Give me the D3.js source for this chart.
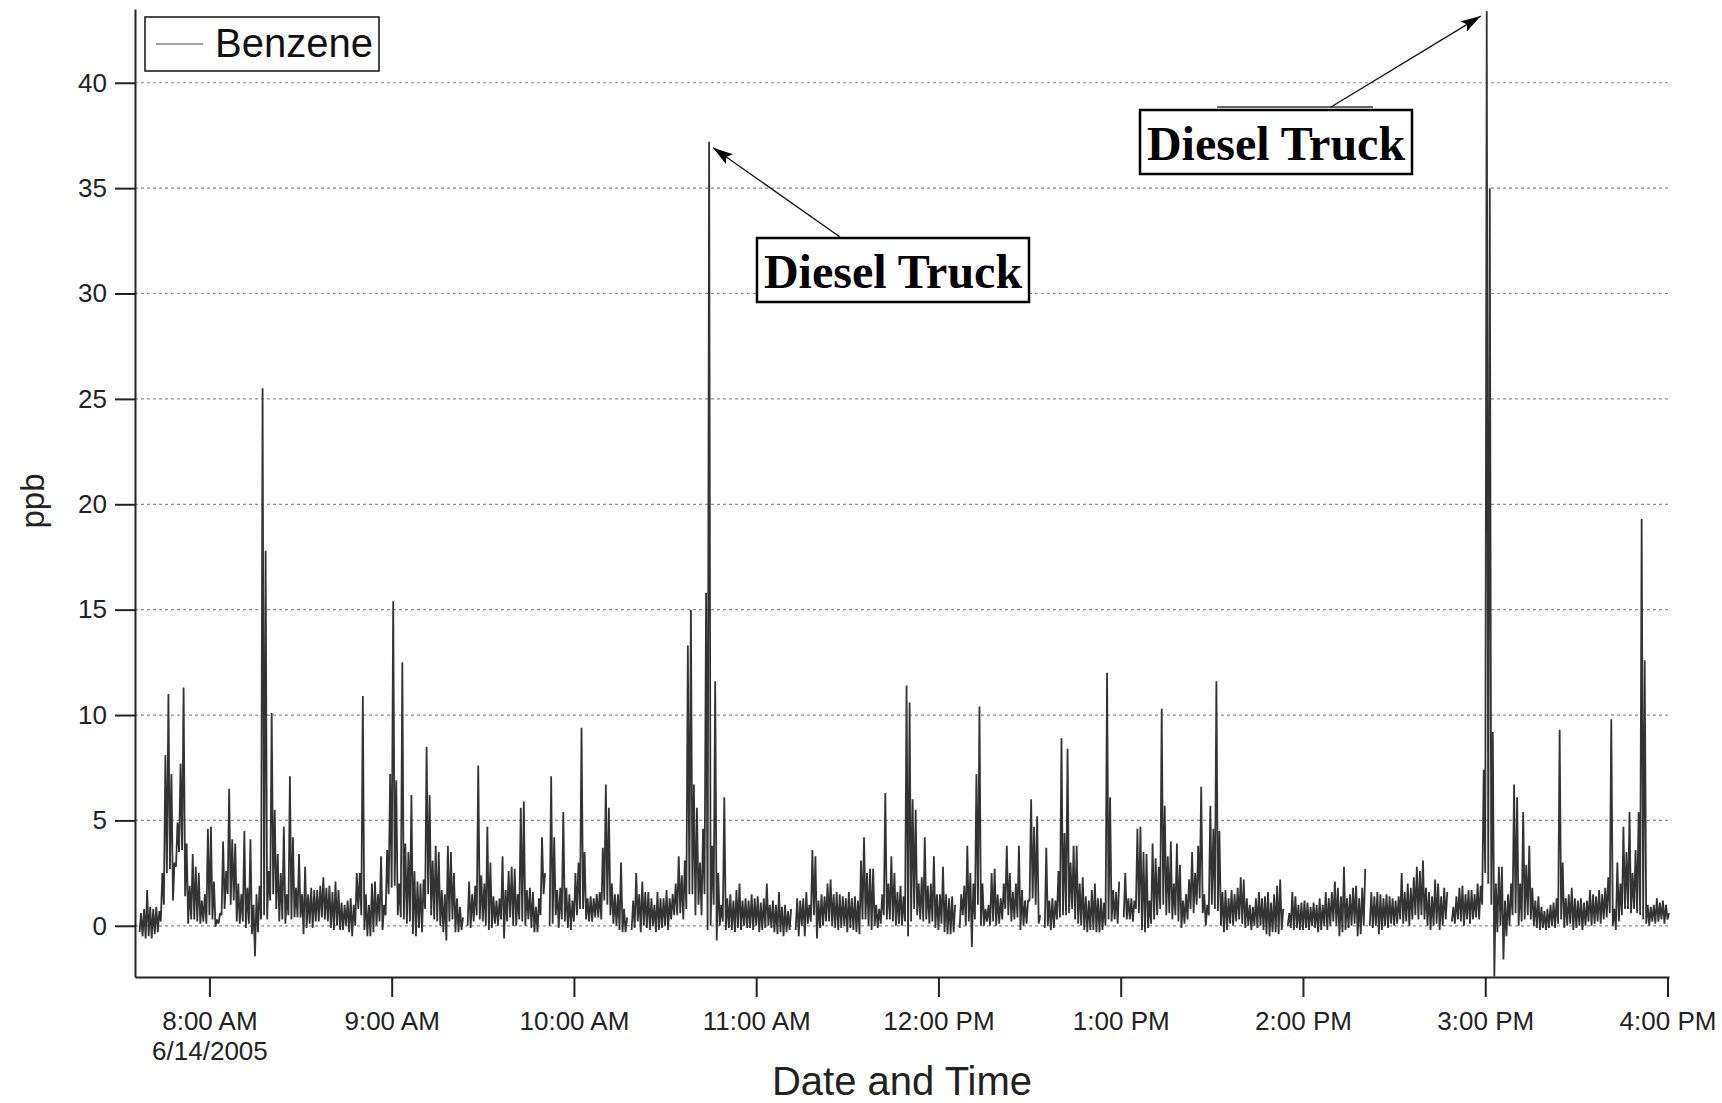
<!DOCTYPE html>
<html>
<head>
<meta charset="utf-8">
<script src="https://cdn.jsdelivr.net/npm/d3@7"></script>
<style>
  body { margin: 0; background: #fff; }
  svg { display: block; font-family: "Liberation Sans", Arial, sans-serif; }
</style>
</head>
<body>
<svg id="chart" width="1722" height="1103"></svg>
<script>
// one reading per minute starting 7:37 AM, 6/14/2005 (low / high of that minute, null = no data)
const startTime = new Date(2005, 5, 14, 7, 37);

const lowVals = [
  -0.3,-0.5,-0.6,-0.5,-0.6,-0.4,-0.3,0.2,1.0,2.5,
  2.7,1.2,2.8,3.5,3.6,1.4,0.1,0.3,0.3,0.2,
  0.1,0.2,0.1,0.5,0.3,-0.05,0.1,0.5,0.8,1.5,
  1.0,1.2,0.2,0.1,0.2,-0.1,0.1,-0.4,-1.45,-0.3,
  0.3,0.5,0.3,1.2,1.5,0.8,0.2,0.3,0.1,0.5,
  0.3,0.4,0.4,0.4,-0.4,-0.1,0.1,-0.1,0.2,0.2,
  0.4,0.3,0.2,-0.1,-0.2,0.0,-0.2,-0.2,0.0,-0.3,
  -0.5,0.0,0.8,0.5,-0.2,-0.5,-0.5,-0.3,0.0,0.2,
  -0.2,0.5,1.5,1.8,1.9,0.5,0.4,0.3,0.1,0.2,
  -0.4,-0.5,-0.1,-0.3,0.8,1.5,0.5,0.3,0.2,0.0,
  -0.3,-0.7,0.2,0.3,-0.3,-0.3,-0.2,null,0.0,-0.1,
  0.2,0.5,0.3,0.2,0.0,-0.2,-0.1,0.1,0.0,0.3,
  -0.6,0.2,0.4,0.0,0.0,0.3,0.2,0.0,0.3,-0.1,
  -0.3,-0.3,0.5,1.5,null,0.0,0.1,0.5,-0.1,0.3,
  0.2,-0.1,-0.2,0.2,0.5,0.8,0.8,0.3,0.2,0.2,
  0.4,0.4,0.3,1.2,1.0,0.5,0.1,0.0,-0.2,-0.3,
  -0.3,null,-0.2,-0.1,0.2,-0.3,0.0,-0.1,-0.2,0.0,
  -0.3,-0.2,-0.1,0.0,-0.2,0.3,0.5,0.5,0.6,0.3,
  0.8,1.5,1.5,0.5,1.0,0.5,1.5,-0.2,0.0,1.0,
  -0.7,0.0,0.2,-0.2,-0.1,-0.2,-0.3,-0.1,-0.2,0.0,
  -0.1,-0.1,-0.2,0.0,-0.3,-0.2,-0.1,0.0,-0.1,-0.3,
  -0.4,-0.3,-0.5,-0.3,-0.2,null,-0.2,-0.5,0.0,-0.5,
  0.1,0.2,0.5,-0.6,-0.1,0.0,0.2,0.2,0.0,-0.1,
  -0.2,-0.1,0.0,-0.3,-0.1,-0.2,-0.3,-0.4,0.3,0.3,
  0.0,-0.2,0.0,-0.1,0.1,0.5,0.3,0.3,0.2,0.0,
  0.1,0.0,0.2,-0.5,0.2,0.8,0.5,0.3,0.2,0.3,
  0.1,0.2,-0.1,-0.2,0.1,-0.3,-0.4,-0.4,-0.3,null,
  -0.1,0.5,0.0,0.2,-1.0,0.3,1.0,0.0,0.0,0.2,
  0.0,0.2,0.0,0.1,0.3,0.8,0.5,0.2,0.3,0.4,
  -0.2,0.0,0.1,1.2,1.3,1.0,0.1,null,-0.1,0.0,
  -0.2,-0.1,0.3,0.4,0.5,0.5,0.6,0.8,0.3,0.1,
  0.0,-0.2,-0.3,-0.2,-0.2,-0.3,-0.3,-0.2,0.0,0.3,
  0.2,0.3,0.1,null,0.4,0.3,0.3,0.2,0.8,0.6,
  -0.2,-0.3,-0.1,0.1,0.3,0.5,0.8,1.0,0.5,0.6,
  0.3,0.5,0.2,-0.1,0.1,0.3,0.8,0.6,1.0,1.3,
  0.6,0.0,0.5,1.0,0.8,0.7,0.0,-0.3,-0.2,0.1,
  0.0,0.2,0.3,0.1,-0.1,0.0,-0.2,0.0,-0.1,0.0,
  -0.2,-0.4,-0.5,-0.3,-0.3,-0.4,-0.2,null,0.0,-0.1,
  -0.2,-0.1,-0.2,-0.2,-0.1,-0.2,0.0,-0.1,-0.3,-0.2,
  0.0,-0.2,0.0,0.2,0.0,-0.5,-0.3,-0.2,-0.1,0.0,
  0.1,-0.5,-0.4,0.0,null,0.0,-0.1,0.0,-0.4,-0.2,
  0.0,-0.1,0.1,0.0,0.1,0.3,0.1,0.2,0.0,0.3,
  0.5,0.3,0.5,0.3,0.0,-0.2,0.0,0.1,-0.2,0.0,
  0.3,null,0.2,0.1,0.3,0.2,0.0,0.3,0.1,0.3,
  0.4,0.3,1.0,2.5,2.0,1.0,-2.4,-0.3,0.0,-1.6,
  -0.5,0.0,0.5,0.6,0.0,0.2,0.3,0.5,0.3,0.0,
  -0.1,-0.2,-0.1,-0.2,-0.1,0.0,-0.1,0.1,0.3,-0.1,
  0.0,0.1,-0.2,-0.1,0.0,-0.2,0.0,0.2,0.0,0.1,
  0.2,0.1,0.3,0.4,0.6,0.0,-0.2,0.2,0.5,0.8,
  0.8,0.6,0.8,0.6,0.5,0.3,0.1,0.0,0.2,0.1,
  0.2,0.3,0.1,0.3
];

const highVals = [
  0.6,0.8,1.7,0.9,0.8,0.9,0.7,2.5,8.1,11.0,
  7.2,3.0,4.9,7.7,11.3,3.9,1.9,3.4,2.8,2.5,
  1.2,1.5,4.6,4.7,2.1,0.3,0.6,4.0,2.6,6.5,
  4.1,3.9,2.0,1.5,4.5,1.8,4.1,1.0,1.5,1.9,
  25.5,17.8,2.6,10.1,5.5,3.4,2.5,4.7,1.5,7.1,
  4.2,1.8,3.4,1.5,2.8,1.5,1.8,1.7,1.7,1.9,
  2.3,1.8,1.9,1.6,2.1,1.7,1.1,1.0,1.2,1.3,
  1.0,2.5,2.5,10.9,1.5,1.0,2.0,2.1,1.5,3.3,
  1.0,3.6,7.2,15.4,6.9,2.0,12.5,3.9,3.5,6.2,
  2.6,2.1,2.0,2.2,8.5,6.2,3.1,3.8,3.5,1.7,
  1.5,3.8,3.5,2.5,1.3,0.9,0.4,null,2.1,1.5,
  1.9,7.6,2.4,2.0,4.7,3.0,1.4,1.2,1.3,3.3,
  1.7,2.6,2.8,2.7,1.5,5.6,5.9,1.7,1.8,1.6,
  0.9,1.3,4.2,2.5,null,7.1,4.2,1.7,1.8,5.4,
  1.8,1.5,1.2,2.5,3.0,9.4,3.5,1.3,1.4,1.3,
  1.5,1.6,3.7,6.7,5.6,2.0,1.5,1.5,3.0,0.8,
  0.4,null,1.2,2.5,1.5,2.1,1.6,1.6,1.3,1.0,
  1.6,1.3,1.3,1.7,1.3,1.5,2.0,3.3,2.4,3.1,
  13.3,15.0,6.7,5.6,3.0,4.6,15.8,37.2,3.8,11.6,
  2.5,1.0,6.1,1.3,1.5,1.2,1.7,2.0,1.2,1.3,
  1.2,1.5,1.3,1.4,1.1,1.3,2.0,1.0,1.2,1.0,
  1.6,0.9,1.0,0.7,0.8,null,1.3,1.2,1.3,1.6,
  1.0,3.6,3.3,1.2,1.5,1.4,2.0,2.2,1.5,1.6,
  1.5,1.4,1.3,1.6,1.3,1.4,1.2,3.1,4.2,2.5,
  2.7,2.7,1.0,0.8,1.5,6.3,2.0,3.3,2.5,1.6,
  1.9,1.4,11.4,10.6,6.0,5.5,2.0,2.3,4.2,1.9,
  2.0,3.3,1.5,1.5,2.8,1.5,1.3,1.4,1.0,null,
  1.5,1.9,3.8,2.5,2.0,7.2,10.4,2.0,0.8,1.0,
  2.5,2.7,1.5,1.3,2.0,3.8,2.5,1.6,2.0,3.8,
  1.7,1.2,1.2,6.0,4.7,5.2,0.5,null,3.7,1.2,
  1.3,1.2,2.6,8.9,4.4,8.4,3.0,3.8,3.8,2.0,
  2.3,1.4,1.2,1.7,2.0,1.3,1.3,1.1,12.0,6.1,
  1.7,1.6,2.1,null,2.5,1.3,1.3,1.2,4.6,4.7,
  3.5,3.4,1.2,3.9,3.2,2.8,10.3,5.7,3.3,4.0,
  2.0,3.9,2.9,1.2,1.5,2.2,3.5,2.5,3.8,6.6,
  1.5,1.0,5.7,4.6,11.6,4.5,1.6,1.7,1.3,1.7,
  1.5,1.8,2.3,2.2,1.3,1.0,0.9,1.3,1.6,1.3,
  1.4,1.6,1.1,1.5,1.9,2.2,0.8,null,0.6,1.6,
  1.4,1.0,1.1,1.2,1.1,0.9,1.1,1.0,1.3,1.0,
  1.6,1.3,1.6,2.1,1.8,1.4,2.8,1.3,1.5,1.8,
  1.9,1.3,1.8,2.7,null,1.6,1.4,1.6,1.5,1.3,
  1.5,1.4,1.3,1.2,1.4,2.5,1.6,2.0,1.8,2.3,
  2.8,2.6,3.1,1.8,1.6,1.4,2.2,2.0,1.4,1.8,
  1.6,null,0.9,1.4,1.8,1.9,1.5,1.7,1.7,1.5,
  2.0,1.9,7.4,43.4,35.0,9.2,2.0,2.8,2.8,1.2,
  1.5,2.0,6.7,6.1,2.0,5.4,2.9,3.8,1.8,1.2,
  1.4,0.9,0.7,0.8,1.0,1.1,1.3,9.3,3.0,1.3,
  1.5,1.8,1.3,1.2,1.3,1.1,1.2,1.7,1.5,1.4,
  1.7,1.5,1.8,2.3,9.8,0.8,3.0,2.0,4.7,3.5,
  5.4,2.5,3.6,5.4,19.3,12.6,1.0,0.9,1.0,1.3,
  1.1,1.2,1.0,0.6
];

const yTicks = [0, 5, 10, 15, 20, 25, 30, 35, 40];
const hourTicks = [8, 9, 10, 11, 12, 13, 14, 15, 16];
const dateLabel = "6/14/2005";
const seriesName = "Benzene";
const noteText = "Diesel Truck";

const svg = d3.select("#chart");
const margin = { left: 135, right: 53, top: 9, bottom: 126 };
const W = 1722, H = 1103;

const x = d3.scaleTime()
  .domain([new Date(2005, 5, 14, 7, 35, 30), new Date(2005, 5, 14, 16, 0, 30)])
  .range([margin.left, W - margin.right]);
const y = d3.scaleLinear()
  .domain([-2.43, 43.5])
  .range([H - margin.bottom, margin.top]);

// build the line: low then high within each minute
const points = [];
lowVals.forEach((lo, i) => {
  const t = d3.timeMinute.offset(startTime, i);
  points.push({ t: t, v: lo });
  points.push({ t: d3.timeSecond.offset(t, 30), v: highVals[i] });
});

// grid
svg.append("g")
  .selectAll("line")
  .data(yTicks)
  .enter().append("line")
  .attr("x1", x.range()[0])
  .attr("x2", x.range()[1])
  .attr("y1", d => y(d))
  .attr("y2", d => y(d))
  .attr("stroke", "#8a8a8a")
  .attr("stroke-width", 1.2)
  .attr("stroke-dasharray", "3,3");

// series
const line = d3.line()
  .defined(d => d.v != null)
  .x(d => x(d.t))
  .y(d => y(d.v));

svg.append("path")
  .datum(points)
  .attr("d", line)
  .attr("fill", "none")
  .attr("stroke", "#333")
  .attr("stroke-width", 1.8)
  .attr("stroke-linejoin", "bevel");

// axes
const yAxis = svg.append("g")
  .attr("transform", `translate(${margin.left},0)`)
  .call(d3.axisLeft(y).tickValues(yTicks).tickSize(20).tickSizeOuter(0).tickPadding(8));

const xAxis = svg.append("g")
  .attr("transform", `translate(0,${H - margin.bottom})`)
  .call(d3.axisBottom(x)
    .tickValues(hourTicks.map(h => new Date(2005, 5, 14, h, 0)))
    .tickFormat(d3.timeFormat("%-I:%M %p"))
    .tickSize(20).tickSizeOuter(0).tickPadding(15));

[yAxis, xAxis].forEach(a => {
  a.select(".domain").attr("stroke", "#222").attr("stroke-width", 2);
  a.selectAll(".tick line").attr("stroke", "#222").attr("stroke-width", 2);
  a.selectAll(".tick text")
    .attr("font-size", 26)
    .attr("font-family", "Liberation Sans, Arial, sans-serif")
    .attr("fill", "#222");
});

xAxis.selectAll(".tick text")
  .filter((d, i) => i === 0)
  .append("tspan")
  .attr("x", 0)
  .attr("dy", "1.12em")
  .text(dateLabel);

// axis titles
svg.append("text")
  .attr("x", (x.range()[0] + x.range()[1]) / 2)
  .attr("y", 1095)
  .attr("text-anchor", "middle")
  .attr("font-size", 40)
  .attr("fill", "#222")
  .text("Date and Time");

svg.append("text")
  .attr("transform", "translate(44,501) rotate(-90)")
  .attr("text-anchor", "middle")
  .attr("font-size", 33)
  .attr("fill", "#222")
  .text("ppb");

// legend
const legend = svg.append("g");
legend.append("rect")
  .attr("x", 145).attr("y", 17)
  .attr("width", 234).attr("height", 54)
  .attr("fill", "#fff")
  .attr("stroke", "#111")
  .attr("stroke-width", 1.5);
legend.append("line")
  .attr("x1", 156).attr("x2", 203)
  .attr("y1", 44).attr("y2", 44)
  .attr("stroke", "#444").attr("stroke-width", 1.2);
legend.append("text")
  .attr("x", 215).attr("y", 57)
  .attr("font-size", 40)
  .attr("fill", "#111")
  .text(seriesName);

// annotations
svg.append("defs").append("marker")
  .attr("id", "arrow")
  .attr("markerUnits", "userSpaceOnUse")
  .attr("markerWidth", 22).attr("markerHeight", 12)
  .attr("refX", 20).attr("refY", 6)
  .attr("orient", "auto")
  .append("path")
  .attr("d", "M0,0 L20,6 L0,12 L4,6 Z")
  .attr("fill", "#000");

// the two spikes the notes point at (minute index into the arrays)
const notes = [
  { idx: 187, box: [757, 238], from: [840, 237], tipDx: 4, tipDy: 6 },
  { idx: 443, box: [1140, 110], from: [1331, 107], tipDx: -6, tipDy: 5 }
];

notes.forEach((n, i) => {
  const t = d3.timeSecond.offset(d3.timeMinute.offset(startTime, n.idx), 30);
  const tipX = x(t) + n.tipDx;
  const tipY = y(highVals[n.idx]) + n.tipDy;

  if (i === 1) {
    svg.append("line")
      .attr("x1", 1217).attr("x2", 1373)
      .attr("y1", 107).attr("y2", 107)
      .attr("stroke", "#666").attr("stroke-width", 2);
  }

  svg.append("line")
    .attr("x1", n.from[0]).attr("y1", n.from[1])
    .attr("x2", tipX).attr("y2", tipY)
    .attr("stroke", "#111")
    .attr("stroke-width", 1.3)
    .attr("marker-end", "url(#arrow)");

  svg.append("rect")
    .attr("x", n.box[0]).attr("y", n.box[1])
    .attr("width", 272).attr("height", 64)
    .attr("fill", "#fff")
    .attr("stroke", "#000")
    .attr("stroke-width", 2.5);

  svg.append("text")
    .attr("x", n.box[0] + 136).attr("y", n.box[1] + 50)
    .attr("text-anchor", "middle")
    .attr("font-family", "Liberation Serif, Times New Roman, serif")
    .attr("font-weight", "bold")
    .attr("font-size", 48)
    .attr("fill", "#000")
    .text(noteText);
});
</script>
</body>
</html>
